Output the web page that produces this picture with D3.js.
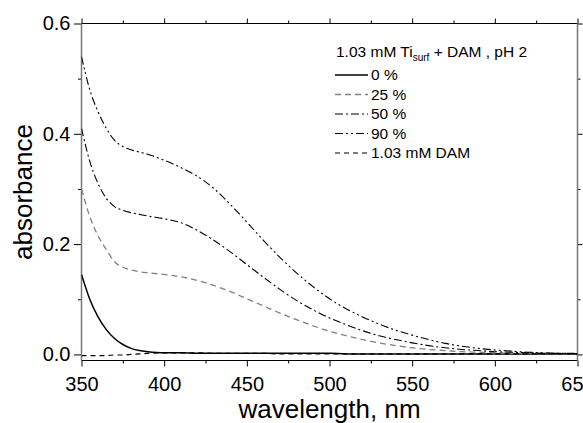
<!DOCTYPE html>
<html>
<head>
<meta charset="utf-8">
<script src="https://cdn.jsdelivr.net/npm/d3@7"></script>
<style>
  html, body { margin: 0; padding: 0; background: #fff; }
  svg { display: block; font-family: "Liberation Sans", Arial, sans-serif; }
</style>
</head>
<body>
<svg id="chart" width="583" height="423"></svg>
<script>
// ---------- data ----------
const wavelength = [350,355,360,365,370,375,380,385,390,400,410,420,430,440,450,460,470,480,490,500,510,520,530,540,550,560,570,580,590,600,610,620,630,640,650];
const pct0  = [0.145,0.100,0.068,0.045,0.029,0.018,0.011,0.007,0.005,0.003,0.003,0.002,0.002,0.002,0.002,0.002,0.002,0.002,0.002,0.002,0.001,0.001,0.001,0.001,0.001,0.001,0.001,0.001,0.001,0.001,0.001,0.001,0.001,0.001,0.001];
const pct25 = [0.300,0.250,0.215,0.190,0.168,0.158,0.153,0.150,0.148,0.145,0.141,0.134,0.125,0.114,0.101,0.088,0.075,0.063,0.052,0.042,0.034,0.027,0.021,0.016,0.012,0.009,0.007,0.005,0.004,0.003,0.002,0.002,0.001,0.001,0.001];
const pct50 = [0.410,0.350,0.310,0.283,0.268,0.261,0.257,0.254,0.251,0.246,0.239,0.225,0.207,0.186,0.163,0.140,0.118,0.098,0.081,0.066,0.054,0.043,0.034,0.027,0.021,0.016,0.012,0.009,0.007,0.005,0.004,0.003,0.002,0.002,0.001];
const pct90 = [0.540,0.480,0.440,0.410,0.388,0.377,0.371,0.367,0.363,0.352,0.339,0.323,0.301,0.272,0.240,0.207,0.176,0.148,0.123,0.101,0.083,0.068,0.055,0.044,0.035,0.027,0.020,0.015,0.011,0.008,0.006,0.004,0.003,0.002,0.002];
const dam   = [-0.002,-0.002,-0.002,-0.002,-0.001,-0.001,0.000,0.001,0.002,0.003,0.003,0.003,0.002,0.002,0.002,0.002,0.001,0.001,0.001,0.001,0.001,0.001,0.001,0.001,0.001,0.001,0.001,0.001,0.001,0.001,0.001,0.001,0.001,0.001,0.001];

const seriesLabels = ["0 %", "25 %", "50 %", "90 %", "1.03 mM DAM"];
const xMajorTicks = [350,400,450,500,550,600,650];
const xMinorTicks = [375,425,475,525,575,625];
const yMajorTicks = [0.0,0.2,0.4,0.6];
const yMinorTicks = [0.1,0.3,0.5];

// ---------- layout ----------
const mLeft = 81.5, mRight = 577.5, mTop = 23.5, mBottom = 360.5;
const svg = d3.select("#chart");

const x = d3.scaleLinear().domain([350, 650]).range([mLeft, mRight]);
const y = d3.scaleLinear().domain([-0.011, 0.6]).range([mBottom, mTop]);

const series = [
  {label: seriesLabels[0], values: pct0,  color: "#000", dash: null,              width: 1.5},
  {label: seriesLabels[1], values: pct25, color: "#808080", dash: "6,4",          width: 1.3},
  {label: seriesLabels[2], values: pct50, color: "#000", dash: "8,3,2,3",         width: 1.1},
  {label: seriesLabels[3], values: pct90, color: "#000", dash: "8,3,2,3,2,3",     width: 1.1},
  {label: seriesLabels[4], values: dam,   color: "#000", dash: "5,4",             width: 1.2}
];

svg.append("defs").append("clipPath").attr("id", "clip")
  .append("rect").attr("x", mLeft).attr("y", mTop).attr("width", mRight - mLeft).attr("height", mBottom - mTop);

// ---------- axes ----------
function styleAxis(g) {
  g.select(".domain").remove();
  g.selectAll("line").attr("stroke", "#000").attr("stroke-width", 1);
}
const FONT = "Liberation Sans, Arial, sans-serif";

svg.append("g").attr("transform", `translate(0,${mBottom})`)
  .call(d3.axisBottom(x).tickValues(xMajorTicks).tickSize(6).tickPadding(10).tickFormat(d3.format("d")))
  .call(styleAxis)
  .call(g => g.selectAll("text").attr("font-size", 20).attr("fill", "#000").attr("font-family", FONT));
svg.append("g").attr("transform", `translate(0,${mBottom})`)
  .call(d3.axisBottom(x).tickValues(xMinorTicks).tickSize(3).tickFormat(""))
  .call(styleAxis);
svg.append("g").attr("transform", `translate(0,${mTop})`)
  .call(d3.axisTop(x).tickValues(xMajorTicks).tickSize(5).tickFormat(""))
  .call(styleAxis);
svg.append("g").attr("transform", `translate(0,${mTop})`)
  .call(d3.axisTop(x).tickValues(xMinorTicks).tickSize(3).tickFormat(""))
  .call(styleAxis);
svg.append("g").attr("transform", `translate(${mLeft},0)`)
  .call(d3.axisLeft(y).tickValues(yMajorTicks).tickSize(7.5).tickPadding(3.5).tickFormat(d3.format(".1f")))
  .call(styleAxis)
  .call(g => g.selectAll("text").attr("font-size", 20).attr("fill", "#000").attr("font-family", FONT));
svg.append("g").attr("transform", `translate(${mLeft},0)`)
  .call(d3.axisLeft(y).tickValues(yMinorTicks).tickSize(3.5).tickFormat(""))
  .call(styleAxis);
svg.append("g").attr("transform", `translate(${mRight},0)`)
  .call(d3.axisRight(y).tickValues(yMajorTicks).tickSize(5).tickFormat(""))
  .call(styleAxis);
svg.append("g").attr("transform", `translate(${mRight},0)`)
  .call(d3.axisRight(y).tickValues(yMinorTicks).tickSize(3).tickFormat(""))
  .call(styleAxis);

// frame
svg.append("line").attr("x1", mLeft).attr("x2", mRight).attr("y1", mTop).attr("y2", mTop).attr("stroke", "#000").attr("stroke-width", 1.2);
svg.append("line").attr("x1", mLeft).attr("x2", mRight).attr("y1", mBottom).attr("y2", mBottom).attr("stroke", "#000").attr("stroke-width", 1.2);
svg.append("line").attr("x1", mLeft).attr("x2", mLeft).attr("y1", mTop).attr("y2", mBottom).attr("stroke", "#777").attr("stroke-width", 1.5);
svg.append("line").attr("x1", mRight).attr("x2", mRight).attr("y1", mTop).attr("y2", mBottom).attr("stroke", "#777").attr("stroke-width", 1.5);

// ---------- lines ----------
const plot = svg.append("g").attr("clip-path", "url(#clip)");
series.forEach(s => {
  const line = d3.line()
    .x((d, i) => x(wavelength[i]))
    .y(d => y(d))
    .curve(d3.curveMonotoneX);
  plot.append("path")
    .datum(s.values)
    .attr("d", line)
    .attr("fill", "none")
    .attr("stroke", s.color)
    .attr("stroke-width", s.width)
    .attr("stroke-dasharray", s.dash);
});

// ---------- axis titles ----------
svg.append("text")
  .attr("x", (mLeft + mRight) / 2).attr("y", 418)
  .attr("text-anchor", "middle").attr("font-size", 26).attr("fill", "#000")
  .text("wavelength, nm");
svg.append("text")
  .attr("transform", `translate(32,${(mTop + mBottom) / 2}) rotate(-90)`)
  .attr("text-anchor", "middle").attr("font-size", 26).attr("fill", "#000")
  .text("absorbance");

// ---------- legend ----------
const lg = svg.append("g");
const title = lg.append("text").attr("x", 336).attr("y", 57).attr("font-size", 15.5).attr("fill", "#000");
title.append("tspan").text("1.03 mM Ti");
title.append("tspan").attr("dy", 4).attr("font-size", 10).text("surf");
title.append("tspan").attr("dy", -4).text(" + DAM , pH 2");

const rowY = [80, 99.5, 119, 138.5, 158];
series.forEach((s, i) => {
  const yy = rowY[i];
  lg.append("line")
    .attr("x1", 335).attr("x2", 368)
    .attr("y1", yy - 5).attr("y2", yy - 5)
    .attr("stroke", s.color).attr("stroke-width", s.width)
    .attr("stroke-dasharray", s.dash);
  lg.append("text").attr("x", 371).attr("y", yy).attr("font-size", 15.5).attr("fill", "#000").text(s.label);
});
</script>
</body>
</html>
